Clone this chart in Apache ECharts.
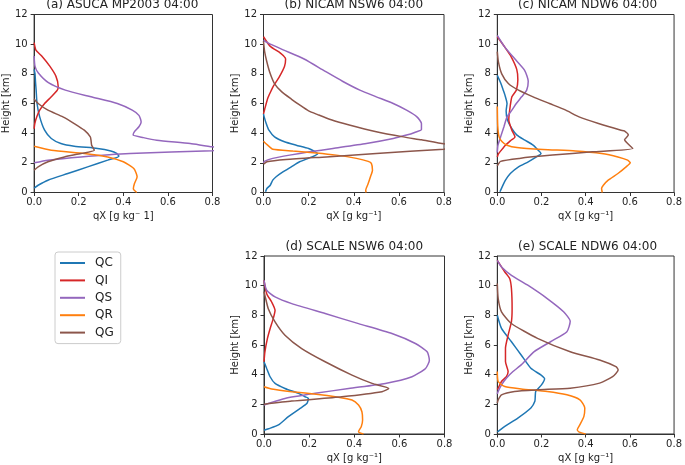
<!DOCTYPE html>
<html>
<head>
<meta charset="utf-8">
<script src="https://cdn.jsdelivr.net/npm/echarts@6/dist/echarts.min.js"></script>
<style>
html,body{margin:0;padding:0;background:#fff;}
#chart{width:685px;height:465px;}
</style>
</head>
<body>
<div id="chart"></div>
<script>
// ---- data: [qX (g/kg), height (km)] ----
const seriesNames = ['QC', 'QI', 'QS', 'QR', 'QG'];
const panelTitles = ['(a) ASUCA MP2003 04:00', '(b) NICAM NSW6 04:00', '(c) NICAM NDW6 04:00', '(d) SCALE NSW6 04:00', '(e) SCALE NDW6 04:00'];
const xTicks = [0, 0.2, 0.4, 0.6, 0.8];
const yTicks = [0, 2, 4, 6, 8, 10, 12];

const a_QC = [[0,0.3],[0.018,0.49],[0.062,0.83],[0.151,1.28],[0.24,1.73],[0.33,2.18],[0.38,2.45],[0.37,2.63],[0.344,2.8],[0.284,2.97],[0.18,3.12],[0.12,3.3],[0.077,3.64],[0.047,4.2],[0.025,5.1],[0.013,6.0],[0.009,6.9],[0.006,7.5],[0.004,8.0],[0,8.3]];
const a_QI = [[0,4.3],[0.003,4.65],[0.012,5.1],[0.025,5.55],[0.047,6.0],[0.077,6.45],[0.104,6.9],[0.108,7.15],[0.098,7.83],[0.071,8.5],[0.034,9.2],[0.008,9.6],[0,10.1]];
const a_QS = [[0,2.0],[0.062,2.18],[0.21,2.4],[0.43,2.63],[0.8,2.82],[0.95,2.95],[0.8,3.08],[0.70,3.3],[0.55,3.53],[0.49,3.7],[0.444,3.87],[0.45,4.1],[0.47,4.43],[0.48,4.76],[0.47,5.2],[0.44,5.55],[0.373,6.0],[0.255,6.45],[0.14,6.9],[0.064,7.4],[0.019,8.05],[0.004,8.5],[0,9.2]];
const a_QR = [[0,3.12],[0.077,2.85],[0.225,2.63],[0.33,2.4],[0.40,2.07],[0.447,1.62],[0.462,1.06],[0.45,0.6],[0.445,0.25],[0.46,0]];
const a_QG = [[0,1.5],[0.018,1.73],[0.062,2.07],[0.136,2.4],[0.21,2.63],[0.27,2.85],[0.258,3.19],[0.255,3.53],[0.252,3.75],[0.225,4.2],[0.18,4.65],[0.129,5.1],[0.062,5.55],[0.018,6.0],[0,6.3]];

const b_QC = [[0.009,0.05],[0.015,0.27],[0.03,0.49],[0.041,0.83],[0.056,1.06],[0.086,1.39],[0.123,1.73],[0.16,2.07],[0.215,2.4],[0.24,2.62],[0.225,2.78],[0.2,2.97],[0.145,3.19],[0.093,3.42],[0.049,3.75],[0.024,4.2],[0.012,4.65],[0.003,5.1],[0,5.3]];
const b_QI = [[0,5.3],[0.005,5.6],[0.02,6.4],[0.035,6.9],[0.045,7.2],[0.07,7.8],[0.093,8.5],[0.098,9.0],[0.075,9.4],[0.03,9.85],[0,10.5]];
const b_QS = [[0,2.0],[0.004,2.1],[0.041,2.3],[0.116,2.52],[0.204,2.74],[0.308,2.97],[0.456,3.3],[0.575,3.64],[0.634,3.87],[0.67,4.05],[0.70,4.25],[0.70,4.65],[0.68,5.1],[0.634,5.55],[0.575,6.0],[0.50,6.45],[0.427,6.9],[0.35,7.5],[0.27,8.2],[0.18,9.0],[0.09,9.6],[0.03,10.0],[0,10.25]];
const b_QR = [[0,3.45],[0.01,3.3],[0.027,3.08],[0.041,2.92],[0.13,2.8],[0.234,2.67],[0.323,2.52],[0.412,2.3],[0.464,2.1],[0.478,1.96],[0.483,1.5],[0.474,1.06],[0.464,0.6],[0.453,0.16],[0.455,0]];
const b_QG = [[0,1.9],[0.015,2.07],[0.1,2.22],[0.278,2.4],[0.5,2.63],[0.8,2.92],[0.95,3.1],[0.8,3.28],[0.7,3.55],[0.62,3.75],[0.5,4.1],[0.38,4.55],[0.3,4.9],[0.24,5.25],[0.2,5.5],[0.16,5.9],[0.123,6.3],[0.08,6.8],[0.05,7.3],[0.03,8.0],[0.015,8.8],[0.005,9.5],[0,10.2]];

const c_QC = [[0.012,0.05],[0.022,0.38],[0.037,0.83],[0.059,1.28],[0.096,1.73],[0.14,2.07],[0.177,2.4],[0.198,2.63],[0.185,2.85],[0.162,3.19],[0.125,3.53],[0.089,3.87],[0.066,4.31],[0.046,4.88],[0.04,5.5],[0.044,6.0],[0.034,6.6],[0.027,6.9],[0.015,7.4],[0,7.9]];
const c_QI = [[0,2.4],[0.005,2.6],[0.018,2.85],[0.037,3.19],[0.06,3.5],[0.08,3.75],[0.066,4.2],[0.052,4.88],[0.056,5.55],[0.066,6.45],[0.086,6.9],[0.093,7.6],[0.088,8.3],[0.063,9.15],[0.034,9.8],[0,10.5]];
const c_QS = [[0,2.7],[0.003,3.19],[0.015,3.75],[0.03,4.43],[0.044,5.1],[0.066,5.55],[0.086,6.0],[0.11,6.45],[0.133,6.9],[0.14,7.5],[0.123,8.25],[0.078,9.03],[0.034,9.8],[0,10.6]];
const c_QR = [[0,5.8],[0.002,4.5],[0.008,3.75],[0.022,3.42],[0.044,3.19],[0.089,3.03],[0.207,2.9],[0.354,2.8],[0.472,2.63],[0.546,2.4],[0.59,2.18],[0.602,2.0],[0.583,1.73],[0.546,1.28],[0.502,0.83],[0.48,0.49],[0.472,0.27],[0.475,0]];
const c_QG = [[0,1.8],[0.015,2.1],[0.1,2.3],[0.25,2.52],[0.43,2.74],[0.613,2.97],[0.59,3.3],[0.576,3.55],[0.593,3.87],[0.575,4.15],[0.56,4.2],[0.458,4.65],[0.37,5.1],[0.31,5.55],[0.236,6.0],[0.162,6.45],[0.096,6.9],[0.05,7.35],[0.02,8.0],[0.005,8.8],[0,9.5]];

const d_QC = [[0,0.25],[0.02,0.35],[0.064,0.61],[0.108,1.17],[0.16,1.73],[0.19,2.06],[0.197,2.4],[0.182,2.51],[0.153,2.74],[0.093,3.07],[0.049,3.41],[0.027,3.86],[0.012,4.42],[0,4.87]];
const d_QI = [[0,4.87],[0.004,5.54],[0.015,6.43],[0.027,7.1],[0.041,7.78],[0.049,8.34],[0.034,8.9],[0.012,9.46],[0,10.36]];
const d_QS = [[0,1.95],[0.019,2.06],[0.093,2.4],[0.227,2.74],[0.375,3.07],[0.538,3.41],[0.656,3.86],[0.716,4.42],[0.733,4.98],[0.723,5.54],[0.671,6.1],[0.567,6.77],[0.419,7.44],[0.271,8.12],[0.123,8.79],[0.049,9.24],[0.012,9.69],[0,10.36]];
const d_QR = [[0,3.18],[0.034,3.03],[0.123,2.85],[0.241,2.67],[0.316,2.51],[0.39,2.29],[0.419,1.95],[0.434,1.5],[0.437,0.94],[0.431,0.49],[0.419,0.16],[0.441,0]];
const d_QG = [[0,2.0],[0.123,2.22],[0.345,2.51],[0.523,2.85],[0.553,3.07],[0.479,3.41],[0.39,3.97],[0.271,4.87],[0.167,5.76],[0.093,6.66],[0.049,7.56],[0.019,8.45],[0.004,9.35],[0,9.6]];

const e_QC = [[0,0.15],[0.004,0.18],[0.034,0.51],[0.093,1.07],[0.152,1.75],[0.17,2.2],[0.172,2.6],[0.174,2.87],[0.2,3.31],[0.214,3.72],[0.197,3.98],[0.152,4.43],[0.108,5.33],[0.064,6.22],[0.019,7.12],[0,8.01]];
const e_QI = [[0,3.0],[0.004,3.09],[0.019,3.54],[0.041,3.87],[0.049,4.21],[0.037,4.88],[0.037,5.78],[0.049,6.67],[0.064,7.57],[0.067,8.46],[0.064,9.8],[0.056,10.48],[0.034,10.92],[0,11.7]];
const e_QS = [[0,2.7],[0.004,2.87],[0.019,3.31],[0.041,3.76],[0.071,4.21],[0.108,4.66],[0.167,5.55],[0.241,6.22],[0.315,6.9],[0.33,7.6],[0.3,8.24],[0.226,9.13],[0.138,10.03],[0.064,10.7],[0.019,11.26],[0,11.7]];
const e_QR = [[0,4.21],[0.004,3.54],[0.034,3.2],[0.108,3.04],[0.226,2.87],[0.315,2.64],[0.374,2.3],[0.396,1.75],[0.392,1.19],[0.374,0.63],[0.362,0.29],[0.371,0.13],[0.4,0]];
const e_QG = [[0,2.08],[0.004,2.3],[0.019,2.64],[0.078,2.87],[0.182,2.98],[0.33,3.09],[0.463,3.43],[0.522,3.87],[0.547,4.32],[0.537,4.54],[0.463,4.99],[0.33,5.55],[0.182,6.45],[0.064,7.45],[0.019,8.24],[0.004,9.13],[0,10.14]];

const panelData = [
  [a_QC, a_QI, a_QS, a_QR, a_QG],
  [b_QC, b_QI, b_QS, b_QR, b_QG],
  [c_QC, c_QI, c_QS, c_QR, c_QG],
  [d_QC, d_QI, d_QS, d_QR, d_QG],
  [e_QC, e_QI, e_QS, e_QR, e_QG]
];
const xNames = ['qX [g kg\u207B 1]', 'qX [g kg\u207B\u00B9]', 'qX [g kg\u207B\u00B9]', 'qX [g kg\u207B\u00B9]', 'qX [g kg\u207B\u00B9]'];

// ---- layout / style ----
const colors = ['#1f77b4', '#d62728', '#9467bd', '#ff7f0e', '#8c564b'];
const gridPos = [
  {left: 32, top: 14.5, width: 180.5, height: 178},
  {left: 263.5, top: 14.5, width: 180.5, height: 178},
  {left: 497.3, top: 14.5, width: 180.5, height: 178},
  {left: 264, top: 256, width: 180.5, height: 178},
  {left: 497.3, top: 256, width: 180.5, height: 178}
];
const FONT = 'DejaVu Sans';
const axisColor = '#333';

const grids = gridPos.map(g => Object.assign({show: true, borderColor: axisColor, borderWidth: 1, containLabel: false}, g));
const titles = gridPos.map((g, i) => ({
  text: panelTitles[i],
  left: g.left + g.width / 2,
  top: g.top - 15.5,
  textAlign: 'center',
  padding: 0,
  textStyle: {fontFamily: FONT, fontSize: 12, fontWeight: 'normal', color: '#222'}
}));
const xAxes = gridPos.map((g, i) => ({
  type: 'value', gridIndex: i, min: 0, max: 0.8, interval: 0.2,
  name: xNames[i], nameLocation: 'middle', nameGap: 19,
  nameTextStyle: {fontFamily: FONT, fontSize: 10, color: '#222'},
  axisLine: {show: true, lineStyle: {color: axisColor, width: 1}},
  axisTick: {show: true, inside: false, length: 3.5, lineStyle: {color: axisColor}},
  axisLabel: {fontFamily: FONT, fontSize: 10, color: '#222', margin: 5, formatter: v => v.toFixed(1)},
  splitLine: {show: false}
}));
const yAxes = gridPos.map((g, i) => ({
  type: 'value', gridIndex: i, min: 0, max: 12, interval: 2,
  name: 'Height [km]', nameLocation: 'middle', nameGap: 9,
  nameTextStyle: {fontFamily: FONT, fontSize: 10, color: '#222'},
  axisLine: {show: true, lineStyle: {color: axisColor, width: 1}},
  axisTick: {show: true, inside: false, length: 3.5, lineStyle: {color: axisColor}},
  axisLabel: {fontFamily: FONT, fontSize: 10, color: '#222', margin: 6.5},
  splitLine: {show: false}
}));

const series = [];
panelData.forEach((panel, i) => {
  panel.forEach((arr, k) => {
    series.push({
      type: 'line', name: seriesNames[k], xAxisIndex: i, yAxisIndex: i,
      data: arr, symbol: 'none', smooth: 0.2, clip: true,
      lineStyle: {color: colors[k], width: 1.5},
      itemStyle: {color: colors[k]},
      animation: false
    });
  });
});

const chart = echarts.init(document.getElementById('chart'), null, {renderer: 'canvas'});
chart.setOption({
  backgroundColor: '#fff',
  animation: false,
  title: titles,
  grid: grids,
  xAxis: xAxes,
  yAxis: yAxes,
  legend: {
    data: seriesNames,
    orient: 'vertical',
    left: 55, top: 252,
    itemWidth: 25, itemHeight: 12, itemGap: 5.4,
    padding: [5, 7, 5, 4],
    itemStyle: {opacity: 0},
    borderColor: '#ccc', borderWidth: 1, borderRadius: 3,
    textStyle: {fontFamily: FONT, fontSize: 12, lineHeight: 12, color: '#222', padding: [0, 0, 0, 5]}
  },
  series: series
});
</script>
</body>
</html>
